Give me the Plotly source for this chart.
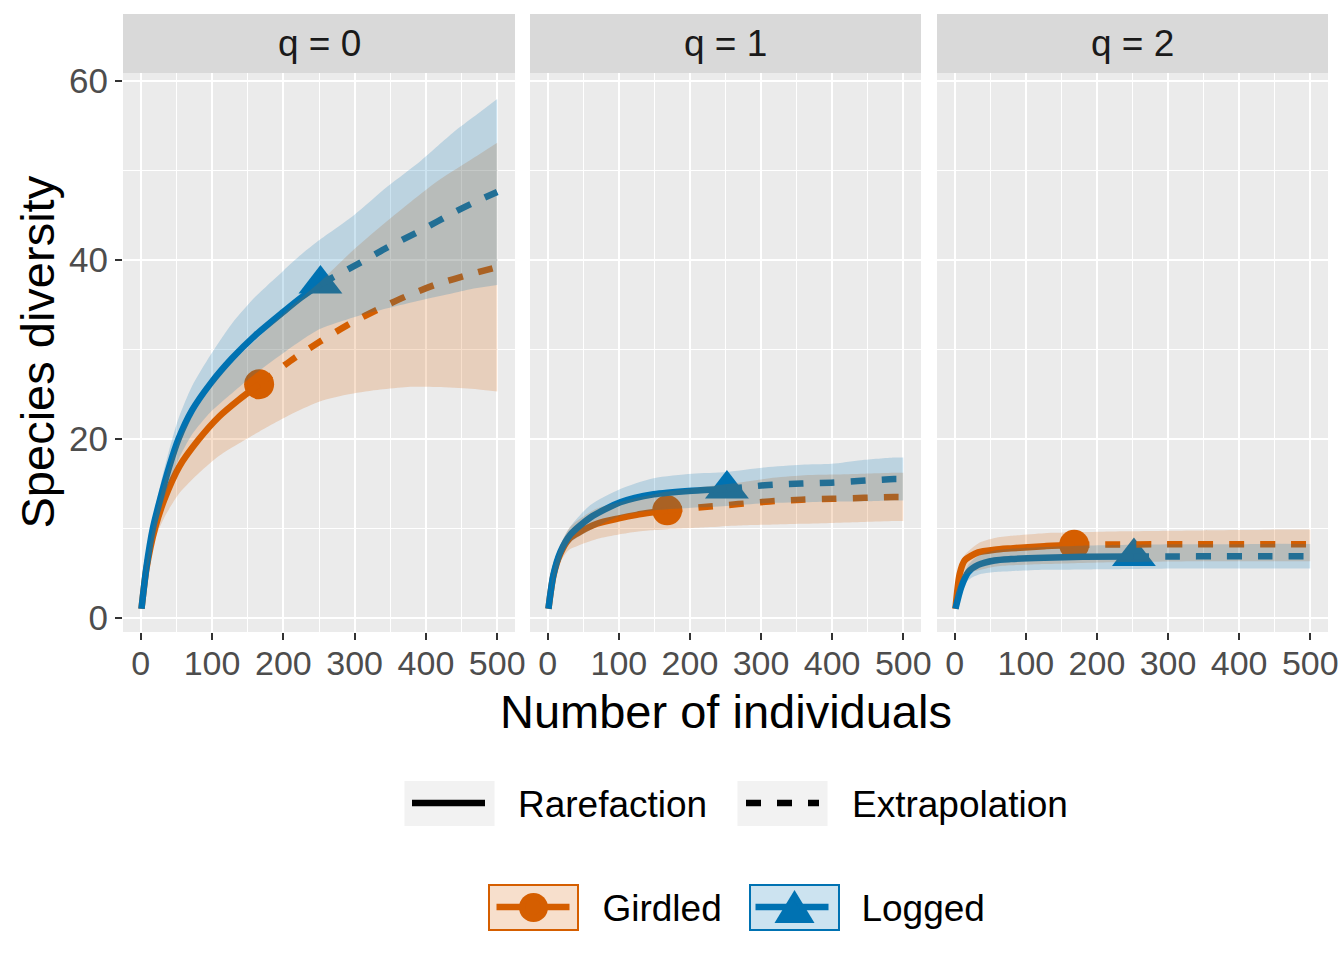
import plotly.graph_objects as go

# ---------------- data ----------------
x_ticks = [0, 100, 200, 300, 400, 500]
y_ticks = [0, 20, 40, 60]
q_labels = ["q = 0", "q = 1", "q = 2"]
group_names = ["Girdled", "Logged"]
type_names = ["Rarefaction", "Extrapolation"]

# q = 0
gird_rare_m_q0 = [1, 8, 20, 33, 54, 82, 110, 138, 166]
gird_rare_y_q0 = [1, 5.5, 10.0, 13.2, 16.9, 20.0, 22.5, 24.4, 26.1]
gird_ext_m_q0 = [166, 215, 252, 294, 336, 374, 416, 463, 500]
gird_ext_y_q0 = [26.1, 29.0, 30.9, 32.9, 34.6, 36.0, 37.3, 38.4, 39.2]
gird_lo_q0 = [1, 5.0, 8.8, 11.2, 13.9, 16.2, 18.1, 19.5, 20.8, 22.9, 24.2, 25.0, 25.5, 25.8, 25.8, 25.6, 25.3]
gird_hi_q0 = [1, 6.0, 11.2, 15.2, 19.9, 23.8, 26.9, 29.3, 31.4, 35.1, 37.6, 40.8, 43.7, 46.2, 48.8, 51.2, 53.1]

log_rare_m_q0 = [1, 8, 17, 27, 40, 53, 72, 98, 128, 161, 200, 225, 252]
log_rare_y_q0 = [1, 5.7, 10.0, 13.2, 16.9, 20.0, 23.2, 26.2, 29.0, 31.6, 34.2, 35.8, 37.3]
log_ext_m_q0 = [252, 299, 346, 393, 439, 467, 500]
log_ext_y_q0 = [37.3, 39.3, 41.4, 43.3, 45.3, 46.4, 47.6]
log_lo_q0 = [1, 5.2, 9.0, 11.7, 15.0, 17.7, 20.5, 23.0, 25.1, 27.3, 29.6, 31.0, 32.3, 33.6, 34.6, 35.5, 36.3, 36.8, 37.2]
log_hi_q0 = [1, 6.2, 11.0, 14.7, 18.8, 22.3, 25.9, 29.4, 32.9, 35.9, 38.8, 40.6, 42.3, 45.0, 48.2, 51.1, 54.3, 56.0, 58.0]

# q = 1
gird_rare_m_q1 = [1, 8, 18, 30, 41, 69, 100, 125, 150, 168]
gird_rare_y_q1 = [1, 4.7, 7.2, 8.8, 9.4, 10.5, 11.1, 11.5, 11.8, 12.0]
gird_ext_m_q1 = [168, 224, 268, 312, 357, 401, 445, 487, 500]
gird_ext_y_q1 = [12.0, 12.4, 12.7, 13.0, 13.2, 13.3, 13.4, 13.5, 13.5]
gird_lo_q1 = [1, 4.2, 6.3, 7.6, 8.0, 8.8, 9.3, 9.6, 9.8, 9.9, 10.1, 10.3, 10.4, 10.5, 10.6, 10.7, 10.8, 10.8]
gird_hi_q1 = [1, 5.2, 8.1, 10.0, 10.8, 12.2, 12.9, 13.4, 13.8, 14.1, 14.7, 15.1, 15.6, 15.9, 16.0, 16.1, 16.2, 16.2]

log_rare_m_q1 = [1, 8, 18, 32, 60, 102, 149, 203, 252]
log_rare_y_q1 = [1, 4.8, 7.4, 9.3, 11.2, 12.9, 13.8, 14.2, 14.4]
log_ext_m_q1 = [252, 305, 357, 399, 441, 487, 500]
log_ext_y_q1 = [14.4, 14.8, 15.0, 15.1, 15.3, 15.5, 15.5]
log_lo_q1 = [1, 4.3, 6.6, 8.4, 9.8, 11.4, 12.0, 12.3, 12.5, 12.8, 12.9, 13.0, 13.0, 13.1, 13.1]
log_hi_q1 = [1, 5.3, 8.2, 10.2, 12.6, 14.4, 15.6, 16.1, 16.3, 16.8, 17.1, 17.2, 17.6, 17.9, 17.9]

# q = 2
gird_rare_m_q2 = [1, 7, 14, 33, 56, 79, 126, 168]
gird_rare_y_q2 = [1, 4.9, 6.4, 7.3, 7.6, 7.75, 8.0, 8.15]
gird_ext_m_q2 = [168, 220, 280, 340, 400, 460, 500]
gird_ext_y_q2 = [8.15, 8.18, 8.2, 8.2, 8.2, 8.2, 8.2]
gird_lo_q2 = [1, 4.0, 4.8, 5.3, 5.7, 5.85, 6.0, 6.1, 6.2, 6.25, 6.3, 6.3, 6.3, 6.3]
gird_hi_q2 = [1, 5.6, 7.0, 8.3, 8.9, 9.15, 9.45, 9.55, 9.65, 9.7, 9.75, 9.8, 9.85, 9.85]

log_rare_m_q2 = [1, 9, 19, 33, 56, 79, 126, 180, 252]
log_rare_y_q2 = [1, 3.4, 5.1, 5.9, 6.4, 6.55, 6.7, 6.8, 6.85]
log_ext_m_q2 = [252, 310, 370, 430, 500]
log_ext_y_q2 = [6.85, 6.85, 6.86, 6.86, 6.87]
log_lo_q2 = [1, 2.9, 4.2, 4.8, 5.1, 5.2, 5.35, 5.4, 5.45, 5.5, 5.5, 5.5, 5.5]
log_hi_q2 = [1, 3.9, 5.9, 6.9, 7.5, 7.7, 7.9, 8.05, 8.15, 8.2, 8.2, 8.25, 8.25]

# ---------------- styling ----------------
FONT = "Liberation Sans, Arial, sans-serif"
COLORS = {"Girdled": "#D55E00", "Logged": "#0072B2"}
FILLS = {"Girdled": "rgba(213,94,0,0.2)", "Logged": "rgba(0,114,178,0.2)"}
SYMBOLS = {"Girdled": "circle", "Logged": "triangle-up"}
MSIZE = {"Girdled": 30, "Logged": 38}
LW = 6.5
DASH = "15px,16px"
SMOOTH = 0.7
W, H = 1344, 960


def fx(px):  # page pixel -> paper x
    return px / W


def fy(py):  # page pixel -> paper y
    return 1 - py / H


x_dom_px = [(123, 515), (530, 921), (937, 1328)]
y_dom_px = (73, 632)
strip_px = (14, 73)

panels = [
    {"Girdled": (gird_rare_m_q0, gird_rare_y_q0, gird_ext_m_q0, gird_ext_y_q0, gird_lo_q0, gird_hi_q0),
     "Logged": (log_rare_m_q0, log_rare_y_q0, log_ext_m_q0, log_ext_y_q0, log_lo_q0, log_hi_q0)},
    {"Girdled": (gird_rare_m_q1, gird_rare_y_q1, gird_ext_m_q1, gird_ext_y_q1, gird_lo_q1, gird_hi_q1),
     "Logged": (log_rare_m_q1, log_rare_y_q1, log_ext_m_q1, log_ext_y_q1, log_lo_q1, log_hi_q1)},
    {"Girdled": (gird_rare_m_q2, gird_rare_y_q2, gird_ext_m_q2, gird_ext_y_q2, gird_lo_q2, gird_hi_q2),
     "Logged": (log_rare_m_q2, log_rare_y_q2, log_ext_m_q2, log_ext_y_q2, log_lo_q2, log_hi_q2)},
]

fig = go.Figure()

for i, pdata in enumerate(panels):
    xa = "x" if i == 0 else f"x{i+1}"
    ya = "y" if i == 0 else f"y{i+1}"
    # observed points
    for g in group_names:
        rm, ry, em, ey, lo, hi = pdata[g]
        fig.add_trace(go.Scatter(x=[rm[-1]], y=[ry[-1]], mode="markers", xaxis=xa, yaxis=ya,
                                 marker=dict(symbol=SYMBOLS[g], size=MSIZE[g], color=COLORS[g]),
                                 showlegend=False, hoverinfo="skip"))
    # lines
    for g in group_names:
        rm, ry, em, ey, lo, hi = pdata[g]
        fig.add_trace(go.Scatter(x=rm, y=ry, mode="lines", xaxis=xa, yaxis=ya,
                                 line=dict(color=COLORS[g], width=LW, shape="spline", smoothing=SMOOTH),
                                 showlegend=False, hoverinfo="skip"))
        fig.add_trace(go.Scatter(x=em, y=ey, mode="lines", xaxis=xa, yaxis=ya,
                                 line=dict(color=COLORS[g], width=LW, dash=DASH, shape="spline",
                                           smoothing=SMOOTH),
                                 showlegend=False, hoverinfo="skip"))
    # ribbons
    for g in group_names:
        rm, ry, em, ey, lo, hi = pdata[g]
        m_full = list(rm) + list(em[1:])
        fig.add_trace(go.Scatter(x=m_full, y=lo, mode="lines", xaxis=xa, yaxis=ya,
                                 line=dict(width=0, color=FILLS[g], shape="spline", smoothing=SMOOTH),
                                 showlegend=False, hoverinfo="skip"))
        fig.add_trace(go.Scatter(x=m_full, y=hi, mode="lines", xaxis=xa, yaxis=ya, fill="tonexty",
                                 fillcolor=FILLS[g],
                                 line=dict(width=0, color=FILLS[g], shape="spline", smoothing=SMOOTH),
                                 showlegend=False, hoverinfo="skip"))

# legend entries
PAD = "\u00a0\u00a0\u2009"
fig.add_trace(go.Scatter(x=[None], y=[None], mode="lines", name=PAD + type_names[0],
                         line=dict(color="black", width=LW), legend="legend"))
fig.add_trace(go.Scatter(x=[None], y=[None], mode="lines", name=PAD + type_names[1],
                         line=dict(color="black", width=LW, dash=DASH), legend="legend"))
for g in group_names:
    fig.add_trace(go.Scatter(x=[None], y=[None], mode="lines+markers", name=PAD + g,
                             line=dict(color=COLORS[g], width=LW),
                             marker=dict(symbol=SYMBOLS[g], size=16, color=COLORS[g]), legend="legend2"))

LEG1_LINE_X, LEG2_LINE_X = 413, 497        # page px where first key line starts
LEG1_PITCH, LEG2_PITCH = 333, 261
KEY_W = 73

layout = dict(
    width=W, height=H, margin=dict(l=0, r=0, t=0, b=0, autoexpand=False),
    paper_bgcolor="white", plot_bgcolor="#EBEBEB",
    font=dict(family=FONT, color="black"),
    showlegend=True,
    legend=dict(orientation="h", x=fx(LEG1_LINE_X - 6), xanchor="left", y=fy(803.5), yanchor="middle",
                font=dict(size=37, family=FONT, color="black"), bgcolor="rgba(0,0,0,0)",
                itemwidth=KEY_W, entrywidth=LEG1_PITCH - 87, entrywidthmode="pixels", traceorder="normal"),
    legend2=dict(orientation="h", x=fx(LEG2_LINE_X - 5.5), xanchor="left", y=fy(907.5), yanchor="middle",
                 font=dict(size=37, family=FONT, color="black"), bgcolor="rgba(0,0,0,0)",
                 itemwidth=KEY_W, entrywidth=LEG2_PITCH - 90, entrywidthmode="pixels", traceorder="normal"),
)

shapes = []
annotations = []
for i in range(3):
    sfx = "" if i == 0 else str(i + 1)
    x0, x1 = x_dom_px[i]
    layout["xaxis" + sfx] = dict(
        domain=[fx(x0), fx(x1)], range=[-24.95, 524.95], anchor="y" + sfx,
        tickvals=x_ticks, ticktext=[str(v) for v in x_ticks],
        ticks="outside", ticklen=7, tickwidth=2, tickcolor="#333333",
        tickfont=dict(size=34, color="#4D4D4D", family=FONT), ticklabelstandoff=-6,
        ticklabeloverflow="allow",
        showgrid=True, gridcolor="white", gridwidth=2.2, zeroline=False, showline=False,
        minor=dict(dtick=50, tick0=0, showgrid=True, gridcolor="white", gridwidth=1.1, ticks=""),
        fixedrange=True,
    )
    ydict = dict(
        domain=[fy(y_dom_px[1]), fy(y_dom_px[0])], range=[-1.6, 60.9], anchor="x" + sfx,
        tickvals=y_ticks, ticktext=[str(v) for v in y_ticks],
        showgrid=True, gridcolor="white", gridwidth=2.2, zeroline=False, showline=False,
        minor=dict(dtick=10, tick0=0, showgrid=True, gridcolor="white", gridwidth=1.1, ticks=""),
        fixedrange=True,
    )
    if i == 0:
        ydict.update(ticks="outside", ticklen=7, tickwidth=2, tickcolor="#333333",
                     tickfont=dict(size=35, color="#4D4D4D", family=FONT))
    else:
        ydict.update(matches="y", showticklabels=False, ticks="")
    layout["yaxis" + sfx] = ydict
    shapes.append(dict(type="rect", xref="paper", yref="paper", x0=fx(x0), x1=fx(x1),
                       y0=fy(strip_px[1]), y1=fy(strip_px[0]),
                       fillcolor="#D9D9D9", line=dict(width=0), layer="below"))
    annotations.append(dict(text=q_labels[i], xref="paper", yref="paper",
                            x=fx((x0 + x1) / 2), y=fy((strip_px[0] + strip_px[1]) / 2),
                            xanchor="center", yanchor="middle", showarrow=False,
                            font=dict(size=37, color="#1A1A1A", family=FONT)))


def pbox(x0, y0, x1, y1, kind="rect", **kw):
    return dict(type=kind, xref="paper", yref="paper", x0=fx(x0), x1=fx(x1),
                y0=fy(y1), y1=fy(y0), **kw)


# legend key backgrounds (ggplot-style key boxes), centred on the legend key lines
for k in range(2):
    cx = LEG1_LINE_X + k * LEG1_PITCH + KEY_W / 2
    shapes.append(pbox(cx - 45, 781, cx + 45, 826, fillcolor="#F2F2F2", line=dict(width=0)))
for k, g in enumerate(group_names):
    cx = LEG2_LINE_X + k * LEG2_PITCH + KEY_W / 2
    shapes.append(pbox(cx - 44.5, 885, cx + 44.5, 930, fillcolor=FILLS[g],
                       line=dict(width=2, color=COLORS[g])))
    if SYMBOLS[g] == "circle":
        shapes.append(pbox(cx - 14.5, 893, cx + 14.5, 922, kind="circle", fillcolor=COLORS[g],
                           line=dict(width=0)))
    else:
        tri = [(cx, 890), (cx + 20, 923), (cx - 20, 923)]
        shapes.append(dict(type="path", xref="paper", yref="paper",
                           path="M" + " L".join(f"{fx(x):.5f},{fy(y):.5f}" for x, y in tri) + " Z",
                           fillcolor=COLORS[g], line=dict(width=0)))

annotations.append(dict(text="Number of individuals", xref="paper", yref="paper",
                        x=fx(725.5), y=fy(711), xanchor="center", yanchor="middle",
                        showarrow=False, font=dict(size=47, color="black", family=FONT)))
annotations.append(dict(text="Species diversity", xref="paper", yref="paper",
                        x=fx(37), y=fy(352.5), xanchor="center", yanchor="middle", textangle=-90,
                        showarrow=False, font=dict(size=47, color="black", family=FONT)))
layout["shapes"] = shapes
layout["annotations"] = annotations

fig.update_layout(**layout)
# remove the browser's default 8px page margin so the 1344x960 figure fills the window exactly
fig.write_html("out.html", config={"displayModeBar": False},
               post_script="document.body.style.margin='0px';")
